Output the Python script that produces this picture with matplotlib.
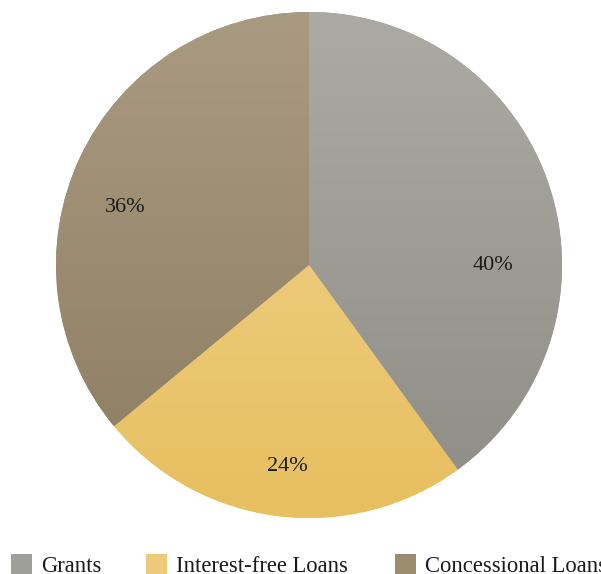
import numpy as np
import matplotlib
matplotlib.use("Agg")
from matplotlib import pyplot as plt
from matplotlib.patches import Rectangle

categories = ["Grants", "Interest-free Loans", "Concessional Loans"]
shares = [40, 24, 36]
pct_labels = ["40%", "24%", "36%"]

# gradient colours (top, bottom) for each slice
grad = [("#abaaa3", "#8d8d86"), ("#f1d592", "#e7bf5f"), ("#a99b82", "#8c7b60")]
legend_cols = ["#9f9f99", "#edc97a", "#9c8c70"]

# label positions (angle in degrees, radius fraction) as excel places them
label_pos = [(0, 0.727), (-96, 0.80), (162.7, 0.76)]

plt.rcParams['font.family'] = ['Liberation Serif', 'DejaVu Serif']

W, H = 601, 574
fig = plt.figure(figsize=(W / 100, H / 100), dpi=100)
R = 253
cx, cy = 309, 265
half = 262
ax = fig.add_axes([(cx - half) / W, (H - cy - half) / H, 2 * half / W, 2 * half / H])

wedges, _ = ax.pie(shares, startangle=90, counterclock=False, radius=1,
                   colors=legend_cols, wedgeprops=dict(linewidth=0))


def hex2rgb(h):
    return np.array([int(h[i:i + 2], 16) for i in (1, 3, 5)]) / 255.0


for w, (c_top, c_bot) in zip(wedges, grad):
    t = np.linspace(0, 1, 256)[:, None, None]
    img = hex2rgb(c_top)[None, None, :] * (1 - t) + hex2rgb(c_bot)[None, None, :] * t
    img = np.repeat(img, 4, axis=1)
    im = ax.imshow(img, extent=(-1, 1, -1, 1), origin='upper', aspect='auto', zorder=2)
    im.set_clip_path(w)

lim = half / R
ax.set_xlim(-lim, lim)
ax.set_ylim(-lim, lim)
ax.set_aspect('equal')
ax.axis('off')

for txt, (ang, r) in zip(pct_labels, label_pos):
    a = np.deg2rad(ang)
    ax.text(r * np.cos(a), r * np.sin(a), txt, ha='center', va='center',
            fontsize=16, color='#1a1a1a', zorder=3)

# legend along the bottom
leg_x = [11, 146, 395]
for x0, col, name in zip(leg_x, legend_cols, categories):
    fig.patches.append(Rectangle((x0 / W, 0), 21 / W, 20 / H,
                                 transform=fig.transFigure, color=col, linewidth=0))
    fig.text((x0 + 30) / W, (H - 572) / H, name, ha='left', va='baseline',
             fontsize=16.3, color='#1a1a1a')

fig.savefig("out.png", dpi=100)
